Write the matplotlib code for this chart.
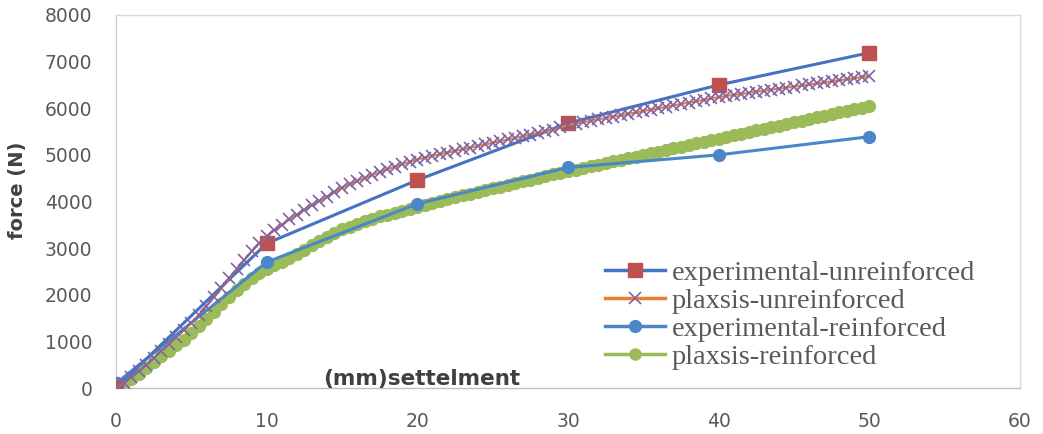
import matplotlib
matplotlib.use("Agg")
import matplotlib.pyplot as plt
from matplotlib.lines import Line2D

# ---------------- data ----------------
exp_x = [0, 10, 20, 30, 40, 50]
exp_unreinforced = [0, 3100, 4460, 5680, 6500, 7190]
exp_reinforced = [100, 2700, 3950, 4730, 5000, 5390]

plaxsis_x = [0, 0.5, 1, 1.5, 2, 2.5, 3, 3.5, 4, 4.5, 5, 5.5, 6, 6.5, 7, 7.5, 8, 8.5, 9, 9.5,
             10, 10.5, 11, 11.5, 12, 12.5, 13, 13.5, 14, 14.5, 15, 15.5, 16, 16.5, 17, 17.5, 18, 18.5, 19, 19.5,
             20, 20.5, 21, 21.5, 22, 22.5, 23, 23.5, 24, 24.5, 25, 25.5, 26, 26.5, 27, 27.5, 28, 28.5, 29, 29.5,
             30, 30.5, 31, 31.5, 32, 32.5, 33, 33.5, 34, 34.5, 35, 35.5, 36, 36.5, 37, 37.5, 38, 38.5, 39, 39.5,
             40, 40.5, 41, 41.5, 42, 42.5, 43, 43.5, 44, 44.5, 45, 45.5, 46, 46.5, 47, 47.5, 48, 48.5, 49, 49.5,
             50]

plaxsis_unreinforced = [0, 110, 230, 360, 500, 640, 790, 940, 1090, 1240, 1400, 1570, 1750, 1950, 2150, 2350, 2550, 2740, 2930, 3100,
                        3250, 3380, 3500, 3615, 3720, 3825, 3920, 4015, 4100, 4200, 4300, 4370, 4440, 4505, 4570, 4630, 4690, 4745, 4800, 4850,
                        4900, 4940, 4980, 5015, 5050, 5085, 5120, 5155, 5190, 5225, 5260, 5295, 5330, 5365, 5400, 5435, 5470, 5505, 5540, 5590,
                        5640, 5670, 5700, 5730, 5760, 5790, 5820, 5850, 5880, 5910, 5940, 5970, 6000, 6030, 6060, 6090, 6120, 6150, 6180, 6210,
                        6240, 6262, 6285, 6308, 6330, 6352, 6375, 6398, 6420, 6442, 6465, 6488, 6510, 6532, 6555, 6578, 6600, 6622, 6645, 6668,
                        6690]

plaxsis_reinforced = [0, 100, 200, 300, 420, 550, 680, 800, 920, 1040, 1170, 1320, 1480, 1640, 1800, 1960, 2110, 2240, 2360, 2460,
                      2550, 2630, 2710, 2790, 2880, 2970, 3060, 3150, 3240, 3320, 3400, 3460, 3520, 3580, 3630, 3680, 3720, 3760, 3800, 3845,
                      3890, 3930, 3970, 4010, 4050, 4090, 4130, 4165, 4200, 4240, 4280, 4320, 4360, 4395, 4430, 4470, 4510, 4545, 4580, 4615,
                      4650, 4685, 4720, 4755, 4790, 4825, 4860, 4895, 4930, 4965, 5000, 5035, 5070, 5105, 5140, 5175, 5210, 5245, 5280, 5315,
                      5350, 5385, 5420, 5455, 5490, 5525, 5560, 5595, 5630, 5665, 5700, 5735, 5770, 5805, 5840, 5875, 5910, 5945, 5980, 6015,
                      6050]

labels = ["experimental-unreinforced", "plaxsis-unreinforced",
          "experimental-reinforced", "plaxsis-reinforced"]
x_ticks = [0, 10, 20, 30, 40, 50, 60]
y_ticks = [0, 1000, 2000, 3000, 4000, 5000, 6000, 7000, 8000]

# ---------------- style ----------------
BLUE = "#4472C4"
BLUE2 = "#4A86C8"
RED = "#C0504D"
ORANGE = "#ED7D31"
PURPLE = "#8064A2"
GREEN = "#9BBB59"
GRAY_TXT = "#595959"

fig = plt.figure(figsize=(10.43, 4.34), dpi=100)
ax = fig.add_axes([116 / 1043, 1 - 388 / 434, (1020 - 116) / 1043, (388 - 15) / 434])

ax.plot(plaxsis_x, plaxsis_reinforced, color=GREEN, lw=2.2, marker="o", ms=8.5,
        mfc=GREEN, mec=GREEN, zorder=2)
ax.plot(exp_x, exp_reinforced, color=BLUE2, lw=2.2, marker="o", ms=8.5,
        mfc=BLUE2, mec=BLUE2, zorder=3)
ax.plot(exp_x, exp_unreinforced, color=BLUE, lw=2.2, marker="s", ms=10,
        mfc=RED, mec=RED, zorder=3)
ax.plot(plaxsis_x, plaxsis_unreinforced, color=ORANGE, lw=1.6, marker="x", ms=9,
        mew=1.2, mfc=PURPLE, mec=PURPLE, zorder=4)

ax.set_xlim(0, 60)
ax.set_ylim(0, 8000)
ax.set_xticks(x_ticks)
ax.set_yticks(y_ticks)
ax.tick_params(length=0, colors=GRAY_TXT, labelsize=13.5)
ax.tick_params(axis="x", pad=17)
ax.tick_params(axis="y", pad=17)
for s in ax.spines.values():
    s.set_color("#D9D9D9")
    s.set_linewidth(1)
ax.spines["bottom"].set_color("#BFBFBF")
ax.spines["left"].set_color("#D0D0D0")

fig.text(18 / 1043, 1 - 190 / 434, "force (N)", rotation=90, fontsize=14,
         fontweight="bold", color="#404040", ha="center", va="center")
ax.text(323 / 1043, 1 - 385 / 434, "(mm)settelment", fontsize=15.5, fontweight="bold",
        color="#404040", ha="left", va="baseline", transform=fig.transFigure)

handles = [
    Line2D([], [], color=BLUE, lw=2.5, marker="s", ms=10, mfc=RED, mec=RED),
    Line2D([], [], color=ORANGE, lw=2.5, marker="x", ms=9, mew=1.2, mfc=PURPLE, mec=PURPLE),
    Line2D([], [], color=BLUE2, lw=2.5, marker="o", ms=8.5, mfc=BLUE2, mec=BLUE2),
    Line2D([], [], color=GREEN, lw=2.5, marker="o", ms=8, mfc=GREEN, mec=GREEN),
]
leg = fig.legend(handles, labels, loc="upper left", bbox_to_anchor=(605 / 1043, 1 - 260 / 434),
                 frameon=False, prop={"family": "Liberation Serif", "size": 20.5},
                 labelspacing=0.07, handlelength=2.1, handletextpad=0.25, borderpad=0,
                 borderaxespad=0, numpoints=1, labelcolor=GRAY_TXT)

fig.savefig("out.png", dpi=100)
